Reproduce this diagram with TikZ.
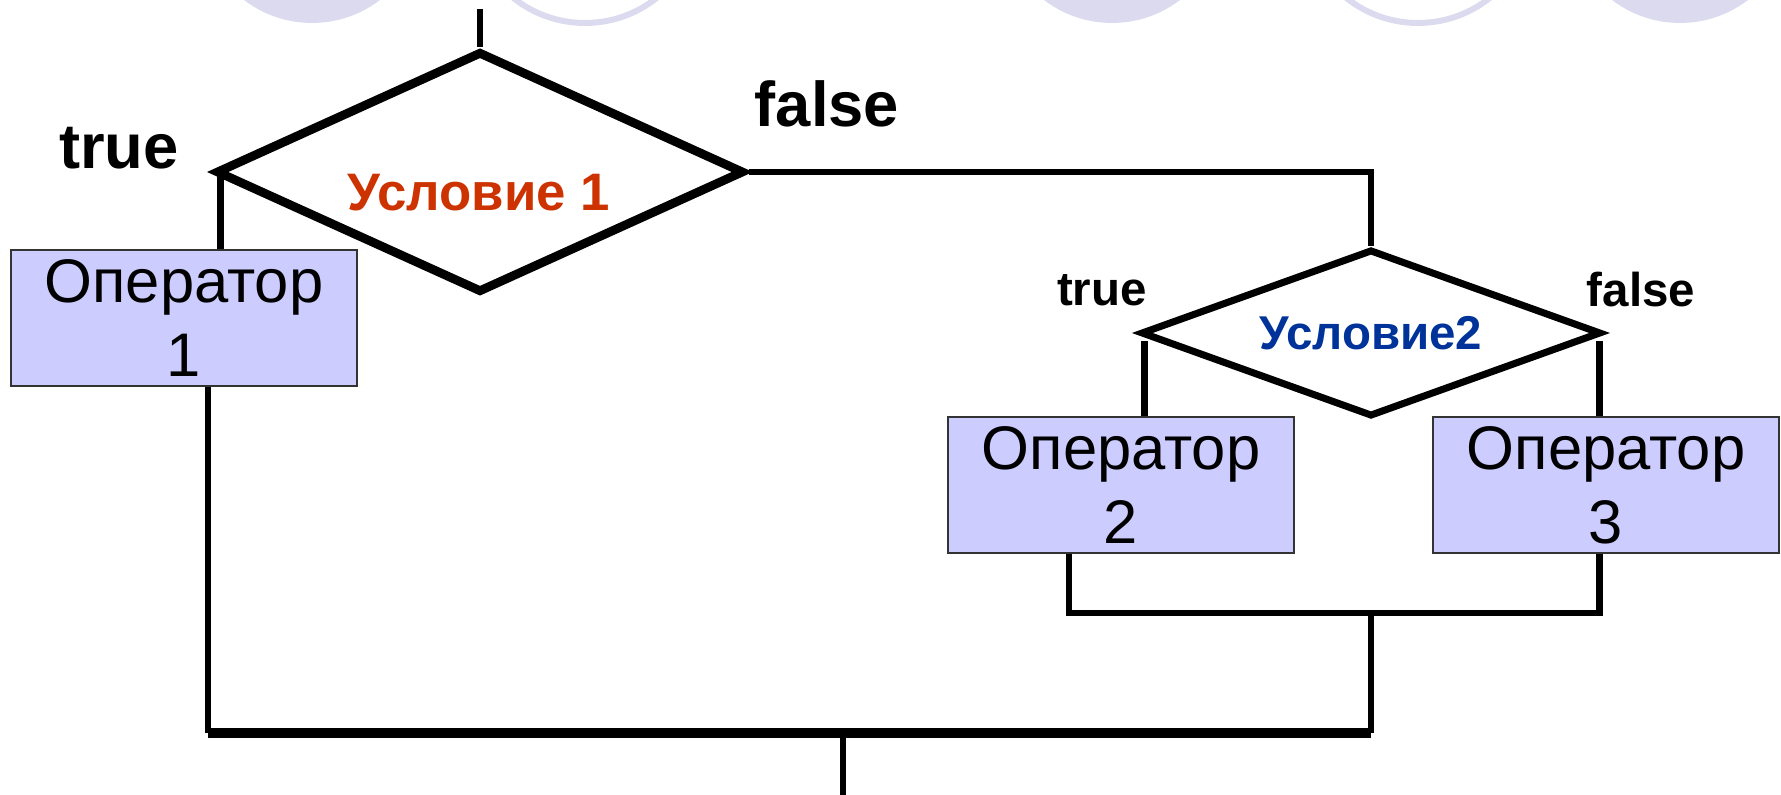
\documentclass[tikz,border=0pt]{standalone}
\usepackage{fontspec}
\setmainfont{Liberation Sans}
\usetikzlibrary{shapes.geometric,positioning}
\definecolor{opfill}{HTML}{CCCCFF}
\definecolor{condred}{HTML}{CC3300}
\definecolor{condblue}{HTML}{003399}
\definecolor{deco}{HTML}{DCDAEE}
\tikzset{
  oper/.style={draw=black!80, line width=0.7pt, fill=opfill, align=center,
    minimum width=3.46cm, minimum height=1.36cm, inner sep=0pt,
    font=\fontsize{17.5}{21}\selectfont},
  cond/.style={diamond, draw, inner sep=0pt},
  flow/.style={line width=1.9pt},
  tfbig/.style={font=\bfseries\fontsize{18}{20}\selectfont},
  tfsmall/.style={font=\bfseries\fontsize{13.5}{15}\selectfont}
}
\begin{document}
\begin{tikzpicture}[x=0.01cm, y=-0.01cm]
\useasboundingbox (0,0) rectangle (1781,795);
% slide decoration
\fill[deco] (312,-89) circle (112);
\fill[deco] (1112,-89) circle (112);
\fill[deco] (1680,-89) circle (112);
\draw[deco, line width=1.7pt] (585,-92) circle (115);
\draw[deco, line width=1.7pt] (1418,-92) circle (115);
%
\coordinate (start) at (480,9);
\node[cond, line width=2.5pt, aspect=2.19, minimum width=5.28cm, minimum height=2.41cm] (c1) at (480,172) {};
\node[font=\bfseries\fontsize{15}{17}\selectfont, text=condred] (c1lab) at (479,193) {Условие 1};
\node[tfbig] (t1) at (119,148) {true};
\node[tfbig] (f1) at (827,104) {false};
%
\node[oper] (o1) at (184,318) {Оператор\\1};
%
\node[cond, line width=2pt, aspect=2.75, minimum width=4.6cm, minimum height=1.67cm,
  text=condblue, font=\bfseries\fontsize{13.5}{15}\selectfont] (c2) at (1371,333) {Условие2};
\node[tfsmall] (t2) at (1102,290) {true};
\node[tfsmall] (f2) at (1641,290) {false};
\node[oper] (o2) at (1121,485) {Оператор\\2};
\node[oper] (o3) at (1606,485) {Оператор\\3};
%
\coordinate (join2) at (1371,613);
\coordinate (join1) at (1371,733);
\coordinate (finish) at (843,795);
%
\draw[flow] (start) -- (c1.north);
\draw[flow] ([xshift=0.09cm]c1.west) -- ([xshift=0.09cm]c1.west |- o1.north);
\draw[flow] (c1.east) -| (c2.north);
\draw[flow] ([shift={(0.07cm,-0.08cm)}]c2.west) -- ([xshift=0.07cm]c2.west |- o2.north);
\draw[flow] ([shift={(-0.05cm,-0.08cm)}]c2.east) -- ([xshift=-0.05cm]c2.east |- o3.north);
\draw[flow] ([xshift=-0.52cm]o2.south) |- (join2) -| ([xshift=-0.05cm]o3.south -| c2.east);
\draw[flow] (join2) -- (join1);
\draw[flow] ([xshift=0.24cm]o1.south) -- ([xshift=0.24cm]o1.south |- join1);
\draw[line width=2.6pt] ([xshift=0.24cm]o1.south |- join1) -- (join1);
\draw[flow] (finish |- join1) -- (finish);
\end{tikzpicture}
\end{document}
